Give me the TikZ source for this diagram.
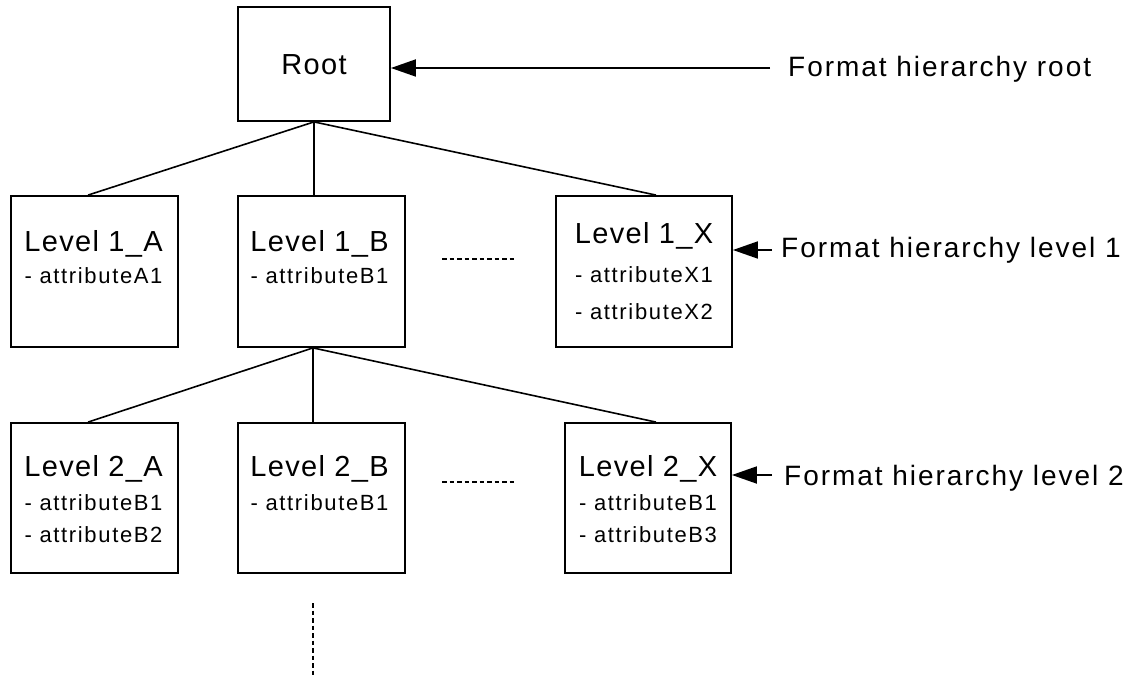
\documentclass[tikz,border=0pt]{standalone}
\usepackage{fontspec}
\setmainfont{Liberation Sans}
\usetikzlibrary{arrows.meta}
\tikzset{
  box/.style={draw, line width=1.8pt, inner sep=0pt},
  title/.style={anchor=base, inner sep=0pt, font=\fontsize{29}{34}\selectfont\addfontfeature{LetterSpace=4.6}},
  attr/.style={anchor=base, inner sep=0pt, font=\fontsize{22}{26}\selectfont\addfontfeature{LetterSpace=7.5}},
  note/.style={anchor=base west, inner sep=0pt, font=\fontsize{28}{32}\selectfont\addfontfeature{LetterSpace=7}},
  link/.style={line width=1.6pt},
  pointer/.style={line width=1.8pt, -{Triangle[length=25pt,width=17pt]}},
  gap/.style={line width=1.2pt, dash pattern=on 4.5pt off 3pt},
}
\begin{document}
\begin{tikzpicture}[x=1pt,y=-1pt]
\useasboundingbox (0,0) rectangle (1126,679);
% boxes
\node[box, minimum width=152pt, minimum height=114pt] (root) at (314,64) {};
\node[box, minimum width=167pt, minimum height=151pt] (l1a) at (94.5,271.5) {};
\node[box, minimum width=167pt, minimum height=151pt] (l1b) at (321.5,271.5) {};
\node[box, minimum width=176pt, minimum height=151pt] (l1x) at (644,271.5) {};
\node[box, minimum width=167pt, minimum height=150pt] (l2a) at (94.5,498) {};
\node[box, minimum width=167pt, minimum height=150pt] (l2b) at (321.5,498) {};
\node[box, minimum width=166pt, minimum height=150pt] (l2x) at (648,498) {};
% texts
\node[title] (troot) at (314,75) {Root};
\node[title] (t1a) at (93.5,251) {Level 1\_A};
\node[attr] (a1a) at (93.5,283) {- attributeA1};
\node[title] (t1b) at (319.5,251) {Level 1\_B};
\node[attr] (a1b) at (319.5,283) {- attributeB1};
\node[title] (t1x) at (644,243) {Level 1\_X};
\node[attr] (a1x1) at (644,282) {- attributeX1};
\node[attr] (a1x2) at (644,319) {- attributeX2};
\node[title] (t2a) at (93.5,476) {Level 2\_A};
\node[attr] (a2a1) at (93.5,510) {- attributeB1};
\node[attr] (a2a2) at (93.5,542) {- attributeB2};
\node[title] (t2b) at (319.5,476) {Level 2\_B};
\node[attr] (a2b) at (319.5,510) {- attributeB1};
\node[title] (t2x) at (648,476) {Level 2\_X};
\node[attr] (a2x1) at (648,510) {- attributeB1};
\node[attr] (a2x2) at (648,542) {- attributeB3};
% tree connectors
\draw[link] (root.south) -- ([xshift=-6.5pt]l1a.north);
\draw[link] (root.south) -- (root.south |- l1b.north);
\draw[link] (root.south) -- ([xshift=12pt]l1x.north);
\coordinate (hub) at ([xshift=-8.5pt]l1b.south);
\draw[link] (hub) -- ([xshift=-6.5pt]l2a.north);
\draw[link] (hub) -- (hub |- l2b.north);
\draw[link] (hub) -- ([xshift=8pt]l2x.north);
% ellipses
\coordinate (d1s) at (442,259); \coordinate (d1e) at (517,259);
\draw[gap] (d1s) -- (d1e);
\coordinate (d2s) at (442,482); \coordinate (d2e) at (517,482);
\draw[gap] (d2s) -- (d2e);
\coordinate (vs) at (313,603); \coordinate (ve) at (313,677);
\draw[gap, line width=1.5pt] (vs) -- (ve);
% notes
\node[note] (nr) at (788,77) {Format hierarchy root};
\coordinate (p0) at (770,68);
\draw[pointer] (p0) -- (p0 -| root.east);
\node[note] (n1) at (781,257) {Format hierarchy level 1};
\coordinate (p1) at (772,250);
\draw[pointer] (p1) -- (p1 -| l1x.east);
\node[note] (n2) at (784,485) {Format hierarchy level 2};
\coordinate (p2) at (772,475);
\draw[pointer] (p2) -- (p2 -| l2x.east);
\end{tikzpicture}
\end{document}
